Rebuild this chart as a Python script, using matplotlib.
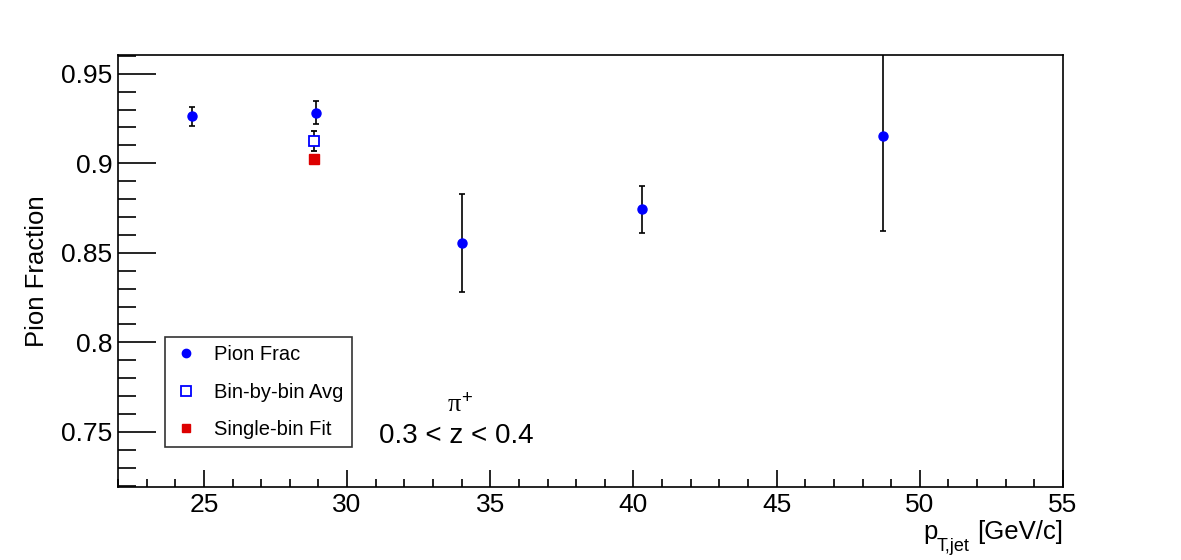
import numpy as np
import matplotlib
matplotlib.use('Agg')
import matplotlib.pyplot as plt
from matplotlib.ticker import MultipleLocator
from matplotlib.lines import Line2D

plt.rcParams['font.family'] = ['Liberation Sans', 'DejaVu Sans']
plt.rcParams['mathtext.fontset'] = 'custom'
plt.rcParams['mathtext.rm'] = 'Liberation Sans'
plt.rcParams['mathtext.it'] = 'Liberation Serif'

# pion fraction vs jet pT
pt = [24.6, 28.9, 34.0, 40.3, 48.7]
frac = [0.9262, 0.9283, 0.8556, 0.8742, 0.9154]
frac_err = [0.0053, 0.0064, 0.0273, 0.0130, 0.0530]

# bin-by-bin average
avg_pt = [28.83]
avg_val = [0.9123]
avg_err = [0.0055]

# single-bin fit
fit_pt = [28.83]
fit_val = [0.9025]

blue = '#0000ff'
red = '#dd0000'

fig = plt.figure(figsize=(11.81, 5.6), dpi=100)
ax = fig.add_axes([0.0999, 0.1304, 0.8002, 0.7714])

ax.errorbar(pt, frac, yerr=frac_err, fmt='o', color=blue, ecolor='black',
            elinewidth=1.2, capsize=2.5, capthick=1.2, markersize=6.5, zorder=3)
ax.errorbar(avg_pt, avg_val, yerr=avg_err, fmt='s', mfc='white', mec=blue,
            mew=1.3, ecolor='black', elinewidth=1.2, capsize=2.5, capthick=1.2,
            markersize=7, zorder=3)
ax.plot(fit_pt, fit_val, 's', color=red, markersize=6.5, zorder=3)

ax.set_xlim(22, 55)
ax.set_ylim(0.7192, 0.9605)
ax.xaxis.set_major_locator(MultipleLocator(5))
ax.xaxis.set_minor_locator(MultipleLocator(1))
ax.yaxis.set_major_locator(MultipleLocator(0.05))
ax.yaxis.set_minor_locator(MultipleLocator(0.01))
ax.yaxis.set_major_formatter(plt.FuncFormatter(lambda v, p: ('%.2f' % v).rstrip('0').rstrip('.')))

ax.tick_params(which='both', direction='in', top=False, right=False, width=1.2,
               labelsize=19, pad=4)
ax.tick_params(axis='y', which='major', length=27)
ax.tick_params(axis='y', which='minor', length=13)
ax.tick_params(axis='x', which='major', length=12)
ax.tick_params(axis='x', which='minor', length=6)
for s in ax.spines.values():
    s.set_linewidth(1.2)

ax.set_ylabel('Pion Fraction', fontsize=18.5, labelpad=9)
fig.text(0.9, 0.038, '[GeV/c]', ha='right', va='baseline', fontsize=18.5)
fig.text(0.7815, 0.038, 'p', ha='left', va='baseline', fontsize=18.5)
fig.text(0.7935, 0.016, 'T,jet', ha='left', va='baseline', fontsize=13)

ax.text(33.95, 0.7655, r'$\pi^{+}$', ha='center', va='center', fontsize=19)
ax.text(33.8, 0.7477, '0.3 < z < 0.4', ha='center', va='center', fontsize=20)

handles = [
    Line2D([], [], ls='none', marker='o', color=blue, markersize=6),
    Line2D([], [], ls='none', marker='s', mfc='white', mec=blue, mew=1.3, markersize=6.5),
    Line2D([], [], ls='none', marker='s', color=red, markersize=6),
]
labels = ['Pion Frac', 'Bin-by-bin Avg', 'Single-bin Fit']
leg = ax.legend(handles, labels, loc='lower left', bbox_to_anchor=(0.0497, 0.093),
                fontsize=14.5, frameon=True, fancybox=False, edgecolor='black',
                borderpad=0.4, handletextpad=0.75, labelspacing=0.9,
                handlelength=1.3, borderaxespad=0)
leg.get_frame().set_linewidth(1.2)

fig.savefig('out.png', dpi=100)
